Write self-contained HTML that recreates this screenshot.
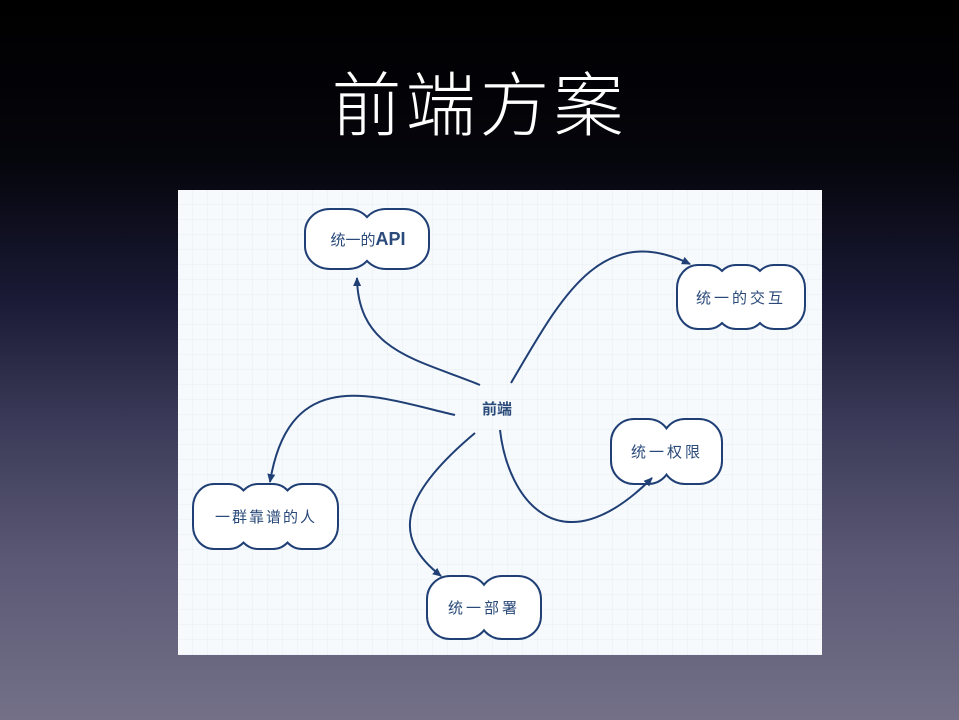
<!DOCTYPE html>
<html><head><meta charset="utf-8"><style>
html,body{margin:0;padding:0;}
body{width:959px;height:720px;overflow:hidden;background:linear-gradient(to bottom,#000 0px,#05050c 160px,#1a1a36 300px,#3a3a58 420px,#5a5874 560px,#737088 720px);font-family:"Liberation Sans","Noto Sans CJK SC",sans-serif;position:relative;}
.title{position:absolute;left:0;width:959px;top:64px;text-align:center;color:#fff;font-size:70px;letter-spacing:4px;line-height:84px;font-family:"Liberation Sans","Noto Sans CJK SC",sans-serif;font-weight:300;}
svg{position:absolute;left:0;top:0;}
</style></head><body>
<div class="title">前端方案</div>
<svg width="959" height="720" viewBox="0 0 959 720">
<defs>
<pattern id="g" width="15" height="15" patternUnits="userSpaceOnUse" x="178" y="190">
<path d="M15 0V15H0" fill="none" stroke="#e6edf4" stroke-width="1"/>
</pattern>
<marker id="a" markerWidth="10" markerHeight="10" refX="8" refY="5" orient="auto" markerUnits="userSpaceOnUse">
<path d="M0,1 L9,5 L0,9 Z" fill="#1f3f75"/>
</marker>
</defs>
<rect x="178" y="190" width="644" height="465" fill="#f7fafd"/>
<rect x="178" y="190" width="644" height="465" fill="url(#g)"/>
<g stroke="#1f3f75" stroke-width="4" fill="#1f3f75">
<rect x="306" y="210" width="66" height="58" rx="24" ry="22"/><rect x="362" y="210" width="66" height="58" rx="24" ry="22"/>
<rect x="678" y="266" width="50" height="62" rx="20" ry="22"/><rect x="716" y="266" width="50" height="62" rx="20" ry="22"/><rect x="754" y="266" width="50" height="62" rx="20" ry="22"/>
<rect x="612" y="420" width="58" height="63" rx="22" ry="22"/><rect x="663" y="420" width="58" height="63" rx="22" ry="22"/>
<rect x="194" y="485" width="55" height="63" rx="20" ry="22"/><rect x="238" y="485" width="55" height="63" rx="20" ry="22"/><rect x="282" y="485" width="55" height="63" rx="20" ry="22"/>
<rect x="428" y="577" width="60" height="61" rx="22" ry="22"/><rect x="480" y="577" width="60" height="61" rx="22" ry="22"/>
</g>
<g fill="#fff">
<rect x="306" y="210" width="66" height="58" rx="24" ry="22"/><rect x="362" y="210" width="66" height="58" rx="24" ry="22"/>
<rect x="678" y="266" width="50" height="62" rx="20" ry="22"/><rect x="716" y="266" width="50" height="62" rx="20" ry="22"/><rect x="754" y="266" width="50" height="62" rx="20" ry="22"/>
<rect x="612" y="420" width="58" height="63" rx="22" ry="22"/><rect x="663" y="420" width="58" height="63" rx="22" ry="22"/>
<rect x="194" y="485" width="55" height="63" rx="20" ry="22"/><rect x="238" y="485" width="55" height="63" rx="20" ry="22"/><rect x="282" y="485" width="55" height="63" rx="20" ry="22"/>
<rect x="428" y="577" width="60" height="61" rx="22" ry="22"/><rect x="480" y="577" width="60" height="61" rx="22" ry="22"/>
</g>
<g fill="none" stroke="#1f3f75" stroke-width="2" marker-end="url(#a)">
<path d="M480,385 C420,360 358,352 357,278"/>
<path d="M511,383 C560,300 600,220 690,264"/>
<path d="M455,415 C380,398 290,360 270,482"/>
<path d="M475,433 C395,500 395,540 441,576"/>
<path d="M500,430 C508,500 560,570 652,478"/>
</g>
<g fill="#2a4a7a" font-family="Liberation Sans, Noto Sans CJK SC, sans-serif" font-size="15" text-anchor="middle">
<text x="368" y="245">统一的<tspan font-size="18" font-weight="bold">API</tspan></text>
<text x="741" y="303" letter-spacing="3">统一的交互</text>
<text x="667" y="457" letter-spacing="3">统一权限</text>
<text x="266" y="522" letter-spacing="2">一群靠谱的人</text>
<text x="484" y="613" letter-spacing="3">统一部署</text>
<text x="497" y="414" font-weight="bold">前端</text>
</g>
</svg>
</body></html>
